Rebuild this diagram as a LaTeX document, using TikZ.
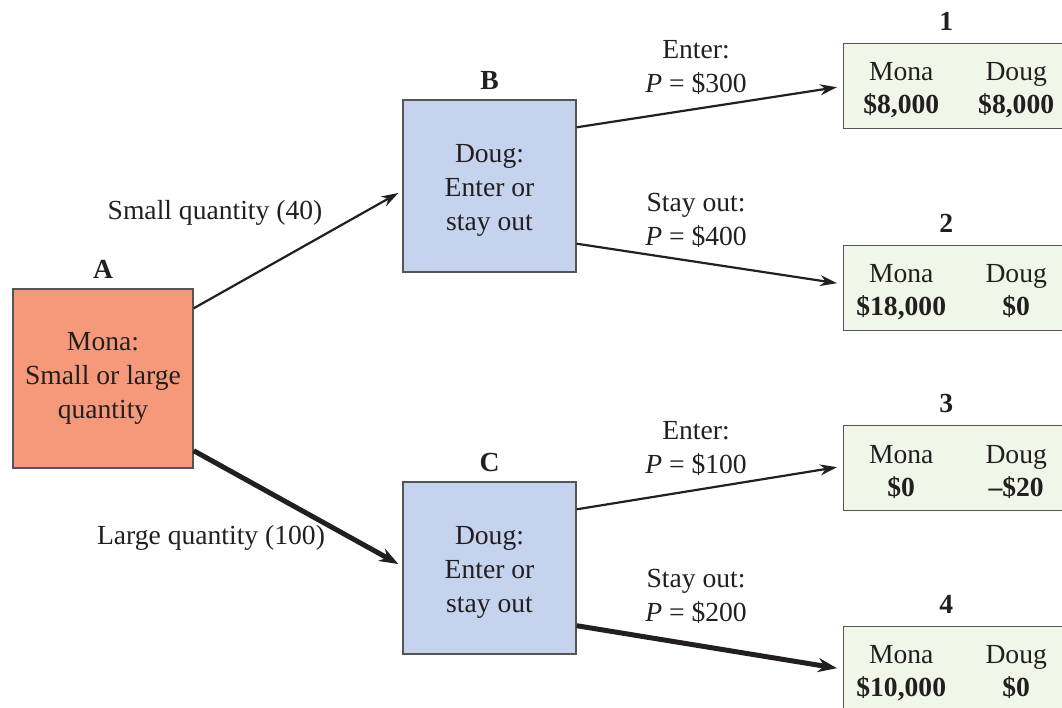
\documentclass[tikz,border=0pt]{standalone}
\usepackage{fontspec}
\setmainfont{Liberation Serif}
\usetikzlibrary{arrows.meta,calc}

\definecolor{monafill}{RGB}{246,153,122}
\definecolor{dougfill}{RGB}{197,211,238}
\definecolor{payfill}{RGB}{240,246,232}
\definecolor{edge}{RGB}{85,85,85}
\definecolor{ink}{RGB}{35,31,32}

\tikzset{
  x=1pt, y=-1pt,
  every node/.style={text=ink, font=\fontsize{27.6}{34}\selectfont},
  decision/.style={draw=edge, line width=1.4pt, minimum width=178pt, minimum height=176pt,
    align=center, inner sep=0pt},
  payoff/.style={draw=edge, line width=1.4pt, fill=payfill, anchor=north west,
    minimum height=85pt, text width=230pt, inner xsep=0pt, align=left},
  tag/.style={font=\fontsize{27.6}{34}\selectfont\bfseries},
  edgelabel/.style={align=center},
  move/.style={draw=ink, line width=2.2pt, -{Stealth[length=17pt,width=11pt]}},
  bigmove/.style={draw=ink, line width=5pt, -{Stealth[length=19pt,width=14pt]}},
}
\newcommand{\pay}[4]{\rule{0pt}{26pt}\makebox[115pt]{#1}\makebox[115pt]{#2}\\[-1pt]
  \makebox[115pt]{\bfseries #3}\makebox[115pt]{\bfseries #4}}
\newcommand{\lift}{\rule{0pt}{27pt}}

\begin{document}
\begin{tikzpicture}
\useasboundingbox (0,0) rectangle (1062,708);
\clip (0,0) rectangle (1062,708);

% decision nodes
\node[decision, fill=monafill, minimum width=180pt, minimum height=179pt,
  label={[tag, label distance=6pt]above:A}] (A) at (103,378.5)
  {Mona:\\Small or large\\quantity};
\node[decision, fill=dougfill, minimum width=173pt, minimum height=172pt,
  label={[tag, label distance=6pt]above:B}] (B) at (489.5,186)
  {\lift Doug:\\Enter or\\stay out};
\node[decision, fill=dougfill, minimum width=173pt, minimum height=172pt,
  label={[tag, label distance=6pt]above:C}] (C) at (489.5,568)
  {\lift Doug:\\Enter or\\stay out};

% outcomes
\node[payoff, label={[tag, label distance=9pt]above:\hspace*{-25pt}1}] (o1) at (843,43)
  {\pay{Mona}{Doug}{\$8,000}{\$8,000}};
\node[payoff, label={[tag, label distance=9pt]above:\hspace*{-25pt}2}] (o2) at (843,245)
  {\pay{Mona}{Doug}{\$18,000}{\$0}};
\node[payoff, label={[tag, label distance=9pt]above:\hspace*{-25pt}3}] (o3) at (843,425)
  {\pay{Mona}{Doug}{\$0}{--\$20}};
\node[payoff, label={[tag, label distance=9pt]above:\hspace*{-25pt}4}] (o4) at (843,626)
  {\pay{Mona}{Doug}{\$10,000}{\$0}};

% moves
\draw[move] ($(A.north east)+(0,20)$) -- ($(B.west)+(-4,7)$);
\draw[bigmove] ($(A.south east)+(0,-18)$) -- ($(C.west)+(-4,-4)$);
\draw[move] ($(B.north east)+(0,28)$) -- ($(o1.west)+(-6,1)$);
\draw[move] ($(B.south east)+(0,-29)$) -- ($(o2.west)+(-6,-5)$);
\draw[move] ($(C.north east)+(0,28)$) -- ($(o3.west)+(-6,-1)$);
\draw[bigmove] ($(C.south east)+(0,-29)$) -- ($(o4.west)+(-6,-1)$);

% move labels
\node[edgelabel] (l1) at (215,213) {Small quantity (40)};
\node[edgelabel] (l2) at (211,538) {Large quantity (100)};
\node[edgelabel] (l3) at (696,68) {Enter:\\\textit{P} = \$300};
\node[edgelabel] (l4) at (696,220) {Stay out:\\\textit{P} = \$400};
\node[edgelabel] (l5) at (696,449) {Enter:\\\textit{P} = \$100};
\node[edgelabel] (l6) at (696,596) {Stay out:\\\textit{P} = \$200};
\end{tikzpicture}
\end{document}
